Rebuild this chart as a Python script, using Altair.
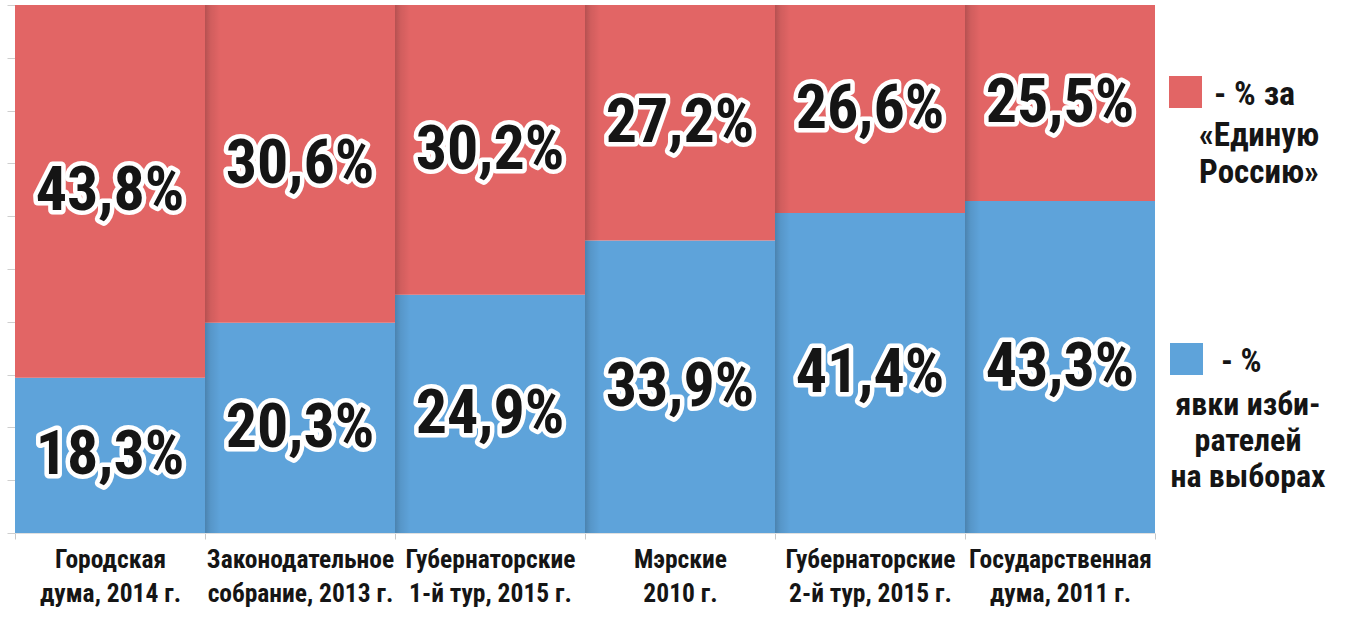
import altair as alt
import pandas as pd

# ---- data ----
categories = [
    "Городская|дума, 2014 г.",
    "Законодательное|собрание, 2013 г.",
    "Губернаторские|1-й тур, 2015 г.",
    "Мэрские|2010 г.",
    "Губернаторские|2-й тур, 2015 г.",
    "Государственная|дума, 2011 г.",
]
turnout_labels = ["18,3%", "20,3%", "24,9%", "33,9%", "41,4%", "43,3%"]
er_labels = ["43,8%", "30,6%", "30,2%", "27,2%", "26,6%", "25,5%"]
# drawn height of the blue part (share of full column height, %)
blue_height = [29.4, 39.8, 45.1, 55.4, 60.6, 62.9]
full_height = 100

FONT = "Liberation Sans Narrow, Roboto Condensed, DejaVu Sans Condensed, Roboto, sans-serif"
RED = "#E26565"
BLUE = "#5EA3DA"
INK = "#151515"

rows = []
for c, b, tl, el in zip(categories, blue_height, turnout_labels, er_labels):
    rows.append(dict(cat=c, y0=0, y1=b, ymid=b / 2, label=tl, series="blue"))
    rows.append(dict(cat=c, y0=b, y1=full_height, ymid=(b + full_height) / 2, label=el, series="red"))
df = pd.DataFrame(rows)
shadow_df = pd.DataFrame({"cat": categories[1:], "y0": 0, "y1": full_height})

W, H = 1140, 528

xenc = alt.X(
    "cat:N",
    sort=categories,
    scale=alt.Scale(paddingInner=0, paddingOuter=0),
    axis=alt.Axis(
        title=None,
        labelExpr="split(datum.label, '|')",
        labelFont=FONT,
        labelFontSize=25.5,
        labelFontWeight="bold",
        labelColor=INK,
        labelLineHeight=34,
        labelAngle=0,
        labelPadding=8,
        labelLimit=0,
        tickBand="extent",
        tickColor="#c8c8c8",
        tickSize=6,
        domainColor="#e0e0e0",
    ),
)
yscale = alt.Scale(domain=[0, full_height], nice=False)

bars = alt.Chart(df).mark_bar(strokeWidth=0).encode(
    x=xenc,
    y=alt.Y(
        "y0:Q",
        scale=yscale,
        axis=alt.Axis(
            title=None,
            labels=False,
            values=list(range(0, 101, 10)),
            tickColor="#cfcfcf",
            tickSize=8,
            domain=False,
            grid=False,
        ),
    ),
    y2="y1:Q",
    color=alt.Color("series:N", scale=alt.Scale(domain=["red", "blue"], range=[RED, BLUE]), legend=None),
)

shadow = alt.Chart(shadow_df).mark_bar(
    strokeWidth=0,
    color=alt.Gradient(
        gradient="linear",
        x1=0, x2=1, y1=0, y2=0,
        stops=[
            alt.GradientStop(color="rgba(0,0,0,0.20)", offset=0),
            alt.GradientStop(color="rgba(0,0,0,0.08)", offset=0.03),
            alt.GradientStop(color="rgba(0,0,0,0)", offset=0.08),
            alt.GradientStop(color="rgba(0,0,0,0)", offset=1),
        ],
    ),
).encode(
    x=alt.X("cat:N", sort=categories),
    y=alt.Y("y0:Q", scale=yscale),
    y2="y1:Q",
)

halo = alt.Chart(df).mark_text(
    font=FONT, fontSize=62, fontWeight="bold", fill="white", stroke="white",
    strokeWidth=9, strokeJoin="round", baseline="middle",
).encode(x=alt.X("cat:N", sort=categories), y=alt.Y("ymid:Q", scale=yscale), text="label:N")

values = alt.Chart(df).mark_text(
    font=FONT, fontSize=62, fontWeight="bold", color=INK, baseline="middle",
).encode(x=alt.X("cat:N", sort=categories), y=alt.Y("ymid:Q", scale=yscale), text="label:N")

one = alt.Data(values=[{}])


def sq(x, y, color):
    return alt.Chart(one).mark_rect(color=color).encode(
        x=alt.value(x), x2=alt.value(x + 33), y=alt.value(y), y2=alt.value(y + 32)
    )


def txt(s, x, y, align, size):
    return alt.Chart(one).mark_text(
        font=FONT, fontSize=size, fontWeight="bold", color=INK, align=align, baseline="alphabetic"
    ).encode(x=alt.value(x), y=alt.value(y), text=alt.value(s))


legend = [
    sq(1154, 71, RED),
    txt("- % за", 1199, 100, "left", 34),
    txt("«Единую", 1244, 141, "center", 33),
    txt("Россию»", 1244, 178, "center", 33),
    sq(1155, 338, BLUE),
    txt("- %", 1206, 367, "left", 33),
    txt("явки изби-", 1233, 410, "center", 32),
    txt("рателей", 1233, 446, "center", 32),
    txt("на выборах", 1233, 482, "center", 32),
]

chart = alt.layer(bars, shadow, halo, values, *legend).properties(
    width=W,
    height=H,
    autosize=alt.AutoSizeParams(type="none"),
    padding={"left": 15, "top": 5, "right": 200, "bottom": 85},
    background="white",
).configure_view(stroke=None)

chart.save("out.html", embed_options={"renderer": "svg", "actions": False})
